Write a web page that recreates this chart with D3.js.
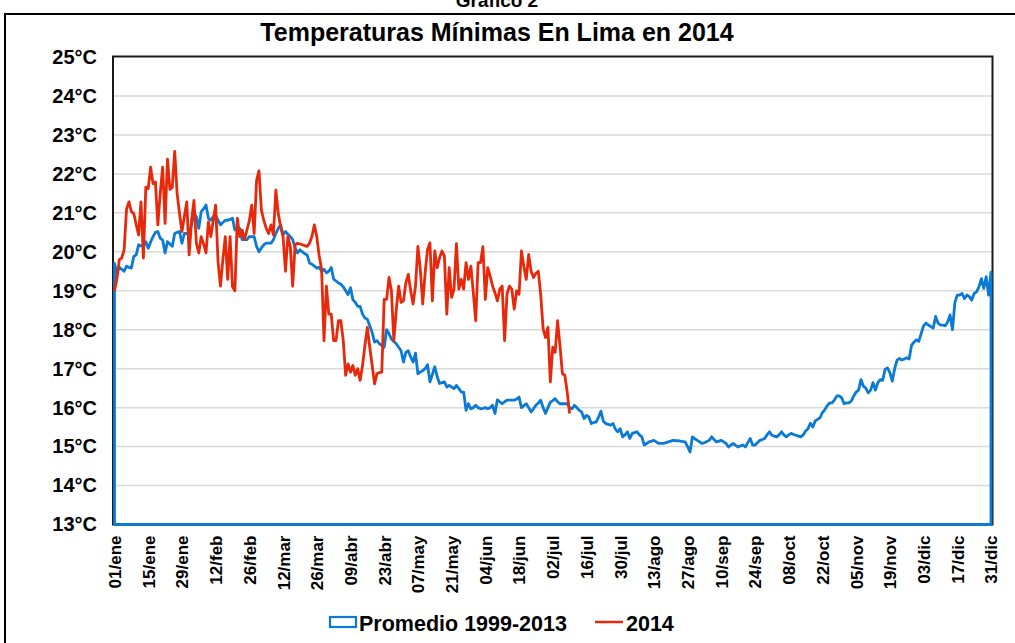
<!DOCTYPE html>
<html>
<head>
<meta charset="utf-8">
<script src="https://cdn.jsdelivr.net/npm/d3@7"></script>
<style>
  html, body { margin: 0; padding: 0; background: #fff; }
  svg { display: block; font-family: "Liberation Sans", Arial, sans-serif; }
</style>
</head>
<body>
<svg id="chart" width="1015" height="643"></svg>
<script>
// ---- data ----
const title = "Temperaturas Mínimas En Lima en 2014";
const supTitle = "Gráfico 2";
const seriesNames = ["Promedio 1999-2013", "2014"];

const tickLabels = ["01/ene","15/ene","29/ene","12/feb","26/feb","12/mar","26/mar","09/abr","23/abr",
  "07/may","21/may","04/jun","18/jun","02/jul","16/jul","30/jul","13/ago","27/ago","10/sep",
  "24/sep","08/oct","22/oct","05/nov","19/nov","03/dic","17/dic","31/dic"];
const tickDays = [1,15,29,43,57,71,85,99,113,127,141,155,169,183,197,211,225,239,253,267,281,295,309,323,337,351,365];

const yTicks = [13,14,15,16,17,18,19,20,21,22,23,24,25];

// daily mean minimum 1999-2013 (day 1..365)
const promedio = [
19.7,19.46,19.6,19.55,19.5,19.63,19.6,19.58,19.88,19.92,
20.18,20.15,20.14,20.26,20.09,20.25,20.39,20.5,20.52,20.35,
20.3,19.97,20.26,20.2,20.14,20.47,20.5,20.52,20.22,20.47,
20.47,20.47,20.7,20.98,20.9,20.6,21.03,21.1,21.2,20.86,
20.81,20.9,20.94,20.81,20.69,20.75,20.81,20.81,20.83,20.86,
20.56,20.58,20.6,20.31,20.31,20.31,20.39,20.39,20.39,20.14,
20.0,20.1,20.18,20.22,20.22,20.22,20.31,20.47,20.6,20.69,
20.43,20.52,20.45,20.39,20.31,20.1,19.97,20.05,20.0,19.95,
19.92,19.71,19.68,19.63,19.58,19.6,19.5,19.55,19.46,19.5,
19.6,19.3,19.25,19.2,19.17,19.1,19.0,18.9,19.08,18.77,
18.7,18.6,18.6,18.4,18.3,18.27,18.1,17.93,17.68,17.72,
17.64,17.6,17.55,18.0,17.9,17.76,17.7,17.64,17.55,17.46,
17.17,17.42,17.46,17.3,17.17,17.4,16.87,16.91,16.95,17.0,
17.1,16.66,16.85,17.05,16.8,16.62,16.64,16.66,16.53,16.57,
16.53,16.49,16.57,16.49,16.4,16.4,15.93,16.1,15.97,16.0,
16.06,16.0,15.97,15.98,16.0,15.97,16.0,16.06,15.85,16.2,
16.15,16.1,16.15,16.19,16.19,16.19,16.19,16.22,16.27,16.0,
16.05,16.1,16.0,15.89,15.97,16.06,16.12,16.19,16.0,15.85,
16.0,16.14,16.18,16.23,16.15,16.1,16.1,16.1,16.1,16.0,
15.97,16.06,16.0,15.93,15.89,15.72,15.8,15.76,15.59,15.62,
15.63,15.75,15.91,15.65,15.59,15.57,15.55,15.59,15.45,15.38,
15.46,15.25,15.3,15.38,15.21,15.34,15.36,15.38,15.3,15.25,
15.04,15.08,15.12,15.14,15.16,15.12,15.08,15.08,15.08,15.1,
15.12,15.14,15.16,15.15,15.15,15.14,15.13,15.12,15.0,14.86,
15.25,15.2,15.16,15.12,15.08,15.1,15.13,15.16,15.25,15.18,
15.12,15.14,15.16,15.12,15.08,14.99,15.04,15.08,15.03,14.99,
15.02,15.04,14.99,15.1,15.21,15.04,15.04,15.1,15.16,15.18,
15.21,15.3,15.38,15.29,15.27,15.25,15.3,15.38,15.3,15.25,
15.3,15.34,15.31,15.29,15.27,15.25,15.3,15.4,15.46,15.6,
15.5,15.66,15.7,15.74,15.87,15.95,16.05,16.12,16.12,16.2,
16.3,16.3,16.25,16.1,16.12,16.12,16.17,16.3,16.4,16.45,
16.72,16.55,16.5,16.38,16.45,16.64,16.45,16.64,16.72,16.7,
16.98,17.02,16.9,16.68,17.0,17.22,17.26,17.22,17.25,17.28,
17.25,17.6,17.68,17.74,17.7,17.9,18.1,18.17,18.12,18.08,
18.04,18.34,18.17,18.12,18.12,18.1,18.2,18.38,18.0,18.7,
18.89,18.89,18.93,18.8,18.89,18.85,18.76,18.93,18.97,19.1,
19.31,19.06,19.36,18.89,19.48
];

// daily minimum 2014 (day 1..190)
const y2014 = [
19.0,19.3,19.8,19.84,20.05,21.1,21.28,21.03,20.98,20.7,
20.43,21.28,19.84,21.66,21.62,22.17,21.75,21.79,20.69,21.5,
22.17,20.73,22.38,21.6,21.66,22.58,21.5,20.98,20.52,20.9,
21.28,19.92,20.8,21.32,20.22,19.97,20.39,20.2,19.97,20.77,
20.39,20.8,21.2,19.75,19.12,19.8,20.39,19.29,20.39,19.1,
19.0,20.86,20.39,20.56,20.31,20.56,20.8,21.2,20.47,21.83,
22.08,21.07,20.81,20.6,20.47,20.69,20.43,21.58,20.98,20.64,
20.39,19.5,20.39,20.14,19.12,20.18,20.22,20.2,20.18,20.16,
20.14,20.22,20.4,20.69,20.39,19.9,19.55,17.72,19.12,18.4,
18.4,17.72,17.72,18.23,18.23,17.72,16.83,17.12,16.91,17.08,
16.83,17.0,16.7,17.08,17.6,18.06,17.55,17.08,16.61,16.87,
16.9,16.91,18.78,18.78,19.34,19.0,17.72,18.5,19.12,18.7,
18.74,19.21,19.42,19.0,18.66,19.12,20.14,19.55,18.66,19.46,
20.06,20.23,18.74,20.02,19.59,19.85,20.02,19.89,18.4,19.59,
18.83,19.04,20.21,19.04,19.29,19.04,19.72,19.29,19.63,18.95,
18.23,19.72,19.72,20.13,18.78,19.59,19.38,19.12,18.95,18.74,
19.04,19.12,17.72,18.91,19.12,19.04,18.53,19.0,18.91,20.02,
19.63,19.29,19.93,19.5,19.34,19.45,19.5,18.9,18.02,17.8,
18.06,16.66,17.55,17.42,18.23,17.59,16.87,16.83,16.4,15.85
];

// ---- drawing ----
const svg = d3.select("#chart");
const W = 1015, H = 643;
const blue = "#0a7ad4", red = "#e8280a";

const plot = {left: 113, right: 992.5, top: 56.5, bottom: 524.5};
const x = d3.scaleLinear().domain([1, 365]).range([114.5, 991]);
const y = d3.scaleLinear().domain([13, 25]).range([plot.bottom, plot.top + 0.5]);

svg.append("rect").attr("width", W).attr("height", H).attr("fill", "#fff");

// outer frame
svg.append("path")
  .attr("d", `M5,${H + 5} L5,14 L${W + 5},14`)
  .attr("fill", "none").attr("stroke", "#000").attr("stroke-width", 2);

// sup title (cut off at the top, as in the original)
svg.append("text").attr("x", 497).attr("y", 7).attr("text-anchor", "middle")
  .attr("font-size", 19).attr("font-weight", "bold").text(supTitle);

// title
svg.append("text").attr("x", 497).attr("y", 41).attr("text-anchor", "middle")
  .attr("font-size", 25).attr("font-weight", "bold").attr("fill", "#000").text(title);

// gridlines
svg.append("g").selectAll("line").data(yTicks.filter(v => v > 13 && v < 25)).join("line")
  .attr("x1", plot.left).attr("x2", plot.right)
  .attr("y1", d => y(d)).attr("y2", d => y(d))
  .attr("stroke", "#d9d9d9").attr("stroke-width", 1.5);

// y axis labels
const yAxis = d3.axisLeft(y).tickValues(yTicks).tickSize(0).tickPadding(16).tickFormat(d => d + "°C");
const gy = svg.append("g").attr("transform", `translate(${plot.left},0)`).call(yAxis);
gy.select(".domain").remove();
gy.selectAll("text").attr("font-size", 20).attr("font-weight", "bold").attr("fill", "#000")
  .attr("font-family", "Liberation Sans, Arial, sans-serif");

// x axis labels
const xAxis = d3.axisBottom(x).tickValues(tickDays).tickSize(0).tickFormat((d, i) => tickLabels[i]);
const gx = svg.append("g").attr("transform", `translate(0,${plot.bottom})`).call(xAxis);
gx.select(".domain").remove();
gx.selectAll("text")
  .attr("font-size", 17).attr("font-weight", "bold").attr("fill", "#000")
  .attr("font-family", "Liberation Sans, Arial, sans-serif")
  .attr("text-anchor", "end")
  .attr("transform", "rotate(-90)")
  .attr("x", -11).attr("y", 0).attr("dy", "0.35em");

// plot frame (black)
svg.append("rect")
  .attr("x", plot.left).attr("y", plot.top)
  .attr("width", plot.right - plot.left).attr("height", plot.bottom - plot.top)
  .attr("fill", "none").attr("stroke", "#1a1a1a").attr("stroke-width", 2);

// promedio as outlined area
const area = d3.area().x((d, i) => x(i + 1)).y0(y(13)).y1(d => y(d));
svg.append("path").datum(promedio)
  .attr("d", area)
  .attr("fill", "none").attr("stroke", blue).attr("stroke-width", 2.8)
  .attr("stroke-linejoin", "round");

// 2014 line
const line = d3.line().x((d, i) => x(i + 1)).y(d => y(d));
svg.append("path").datum(y2014)
  .attr("d", line)
  .attr("fill", "none").attr("stroke", red).attr("stroke-width", 2.8)
  .attr("stroke-linejoin", "round");

// legend
const lg = svg.append("g");
lg.append("rect").attr("x", 330).attr("y", 617).attr("width", 26).attr("height", 10)
  .attr("fill", "#fff").attr("stroke", blue).attr("stroke-width", 2.2);
lg.append("text").attr("x", 359).attr("y", 631).attr("font-size", 21.5).attr("font-weight", "bold")
  .text(seriesNames[0]);
lg.append("line").attr("x1", 595).attr("x2", 623).attr("y1", 622).attr("y2", 622)
  .attr("stroke", red).attr("stroke-width", 2.5);
lg.append("text").attr("x", 626).attr("y", 631).attr("font-size", 21.5).attr("font-weight", "bold")
  .text(seriesNames[1]);
</script>
</body>
</html>
